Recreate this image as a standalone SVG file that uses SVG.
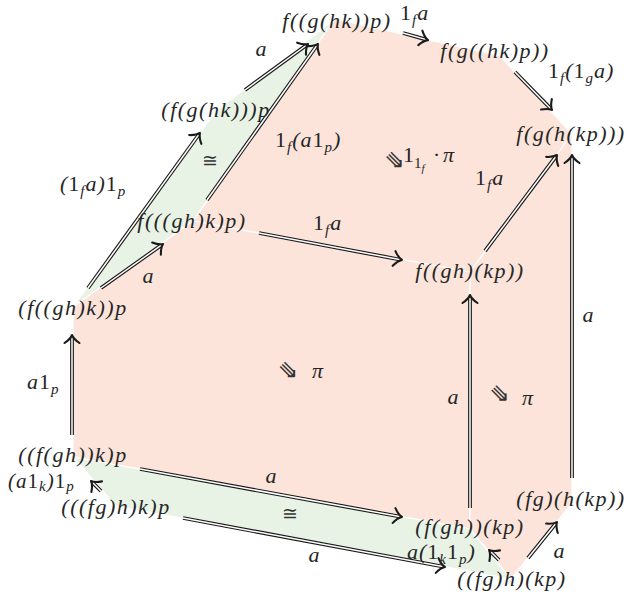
<svg xmlns="http://www.w3.org/2000/svg" width="628" height="594" viewBox="0 0 628 594">
<style>
.t{font-family:"Liberation Serif","DejaVu Serif",serif;font-style:italic;font-size:22px;fill:#262626}
.n{text-anchor:middle;letter-spacing:1.5px}
.l{letter-spacing:1px}
.m{text-anchor:middle}
.s{font-size:15px}
.ss{font-size:11px}
.r{font-style:normal}
.sym{font-family:"DejaVu Sans",sans-serif;font-size:24px;fill:#333;text-anchor:middle}
.cong{font-family:"DejaVu Serif",serif;font-size:19px;fill:#333;text-anchor:middle}
.pk{fill:#fce4da;stroke:#fff;stroke-width:1.2;stroke-linejoin:round}
.gr{fill:#e8f3e5;stroke:#fff;stroke-width:1.2;stroke-linejoin:round}
.o{fill:none;stroke:#1a1a1a;stroke-width:3.8}
.i{fill:none;stroke:#fff;stroke-width:1.5;marker-end:url(#h)}
</style>
<defs>
<marker id="h" markerUnits="userSpaceOnUse" orient="auto" viewBox="-12 -12 24 24" markerWidth="24" markerHeight="24" refX="-2.5" refY="0" overflow="visible">
<path d="M-8,-7.5 C-5,-3 -1.5,-0.6 0,0 C-1.5,0.6 -5,3 -8,7.5" fill="none" stroke="#1a1a1a" stroke-width="2.1" stroke-linecap="round" stroke-linejoin="round"/>
</marker>
</defs>

<g id="faces">
<polygon id="face-green-top" class="gr" points="73,307 216,111 335,19 193,221"/>
<polygon id="face-top" class="pk" points="193,221 335,19 500,56 572,134 470,272"/>
<polygon id="face-front" class="pk" points="73,307 193,221 470,272 470,529 73,457"/>
<polygon id="face-right" class="pk" points="470,272 572,134 572,503 511,579 470,529"/>
<polygon id="face-green-bottom" class="gr" points="73,457 470,529 511,579 116,506"/>
</g>

<g id="connectors">
<g id="e-DA"><path class="o" d="M245,90 L306,45.5"/><path class="i" d="M245,90 L306,45.5"/></g>
<g id="e-FD"><path class="o" d="M88,288 L198.5,135"/><path class="i" d="M88,288 L198.5,135"/></g>
<g id="e-EA"><path class="o" d="M207,200 L316.5,46"/><path class="i" d="M207,200 L316.5,46"/></g>
<g id="e-FE"><path class="o" d="M101,288 L161,245.4"/><path class="i" d="M101,288 L161,245.4"/></g>
<g id="e-AB"><path class="o" d="M403,33 L425.6,39.4"/><path class="i" d="M403,33 L425.6,39.4"/></g>
<g id="e-BC"><path class="o" d="M515,72 L550.3,108.2"/><path class="i" d="M515,72 L550.3,108.2"/></g>
<g id="e-GC"><path class="o" d="M485,251 L555.5,157"/><path class="i" d="M485,251 L555.5,157"/></g>
<g id="e-LC"><path class="o" d="M572,478 L572,157.5"/><path class="i" d="M572,478 L572,157.5"/></g>
<g id="e-EG"><path class="o" d="M259,233 L399.5,259.5"/><path class="i" d="M259,233 L399.5,259.5"/></g>
<g id="e-HF"><path class="o" d="M72,435 L72,337.5"/><path class="i" d="M72,435 L72,337.5"/></g>
<g id="e-JG"><path class="o" d="M470,508 L470,297.5"/><path class="i" d="M470,508 L470,297.5"/></g>
<g id="e-HJ"><path class="o" d="M140,469 L399.5,516.5"/><path class="i" d="M140,469 L399.5,516.5"/></g>
<g id="e-IK"><path class="o" d="M183,518 L442.5,566.5"/><path class="i" d="M183,518 L442.5,566.5"/></g>
<g id="e-IH"><path class="o" d="M101,491 L92.8,482.8"/><path class="i" d="M101,491 L92.8,482.8"/></g>
<g id="e-KJ"><path class="o" d="M499,560 L490.8,551.8"/><path class="i" d="M499,560 L490.8,551.8"/></g>
<g id="e-KL"><path class="o" d="M528,558 L555.4,524"/><path class="i" d="M528,558 L555.4,524"/></g>
</g>

<g id="nodes">
<g id="nA"><text class="t n" x="337" y="28">f((g(hk))p)</text></g>
<g id="nB"><text class="t n" x="495" y="58">f(g((hk)p))</text></g>
<g id="nC"><text class="t n" x="571" y="141">f(g(h(kp)))</text></g>
<g id="nD"><text class="t n" x="216" y="117">(f(g(hk)))p</text></g>
<g id="nE"><text class="t n" x="192" y="228">f(((gh)k)p)</text></g>
<g id="nF"><text class="t n" x="73" y="315">(f((gh)k))p</text></g>
<g id="nG"><text class="t n" x="470" y="278">f((gh)(kp))</text></g>
<g id="nH"><text class="t n" x="73" y="462">((f(gh))k)p</text></g>
<g id="nI"><text class="t n" x="116" y="514">(((fg)h)k)p</text></g>
<g id="nJ"><text class="t n" x="470" y="534">(f(gh))(kp)</text></g>
<g id="nK"><text class="t n" x="512" y="586">((fg)h)(kp)</text></g>
<g id="nL"><text class="t n" x="571" y="506">(fg)(h(kp))</text></g>
</g>

<g id="labels">
<text class="t m" x="261" y="56">a</text>
<text class="t l" x="60" y="191">(<tspan class="r">1</tspan><tspan class="s" dy="5">f</tspan><tspan dy="-5">a)</tspan><tspan class="r">1</tspan><tspan class="s" dy="5">p</tspan></text>
<text class="t l" x="275" y="147"><tspan class="r">1</tspan><tspan class="s" dy="5">f</tspan><tspan dy="-5">(a</tspan><tspan class="r">1</tspan><tspan class="s" dy="5">p</tspan><tspan dy="-5">)</tspan></text>
<text class="t m" x="148" y="283">a</text>
<text class="t l" x="400" y="20"><tspan class="r">1</tspan><tspan class="s" dy="5">f</tspan><tspan dy="-5">a</tspan></text>
<text class="t l" x="548" y="78"><tspan class="r">1</tspan><tspan class="s" dy="5">f</tspan><tspan dy="-5">(</tspan><tspan class="r">1</tspan><tspan class="s" dy="5">g</tspan><tspan dy="-5">a)</tspan></text>
<text class="t l" x="475" y="185"><tspan class="r">1</tspan><tspan class="s" dy="5">f</tspan><tspan dy="-5">a</tspan></text>
<text class="t l" x="313" y="230"><tspan class="r">1</tspan><tspan class="s" dy="5">f</tspan><tspan dy="-5">a</tspan></text>
<text class="t m" x="588" y="322">a</text>
<text class="t m" x="453" y="404">a</text>
<text class="t l" x="27" y="389">a<tspan class="r">1</tspan><tspan class="s" dy="5">p</tspan></text>
<text class="t m" x="271" y="483">a</text>
<text class="t m" x="314" y="562">a</text>
<text class="t l" x="8" y="488" style="font-size:21px">(a<tspan class="r">1</tspan><tspan class="s" dy="3">k</tspan><tspan dy="-3">)</tspan><tspan class="r">1</tspan><tspan class="s" dy="3">p</tspan></text>
<text class="t l" x="407" y="559">a(<tspan class="r">1</tspan><tspan class="s" dy="5">k</tspan><tspan class="r" dy="-5">1</tspan><tspan class="s" dy="5">p</tspan><tspan dy="-5">)</tspan></text>
<text class="t m" x="559" y="558">a</text>
<text class="cong" x="210" y="167">≅</text>
<text class="cong" x="290" y="520">≅</text>
<text class="sym" transform="translate(288.5,370.5) rotate(45)" y="7.5">⇛</text>
<text class="t" x="312" y="378">π</text>
<text class="sym" transform="translate(500,394) rotate(45)" y="7.5">⇛</text>
<text class="t" x="522" y="405">π</text>
<text class="sym" transform="translate(395,160.5) rotate(45)" y="7.5">⇛</text>
<text class="t" x="403" y="162"><tspan class="r">1</tspan><tspan class="s r" dy="6">1</tspan><tspan class="ss" dy="4">f</tspan><tspan dy="-10" dx="9">·</tspan><tspan dx="4">π</tspan></text>
</g>
</svg>
